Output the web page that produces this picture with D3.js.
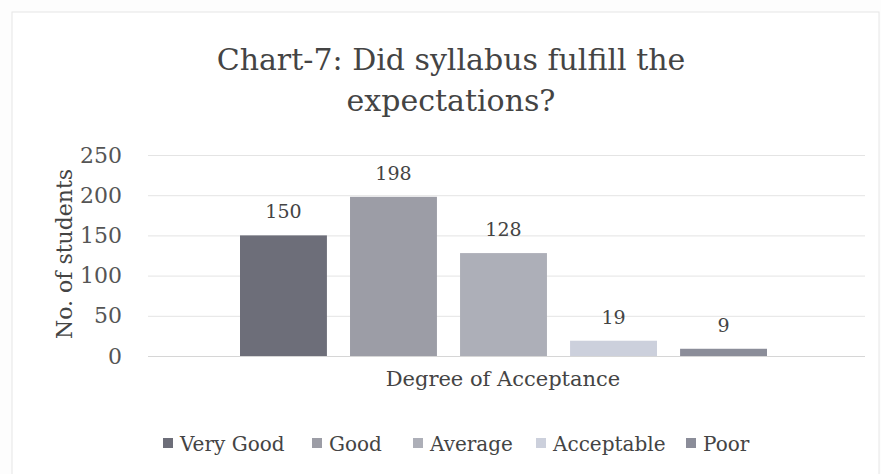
<!DOCTYPE html>
<html><head><meta charset="utf-8">
<script src="https://cdn.jsdelivr.net/npm/d3@7"></script>
<style>body{margin:0;background:#fff;}svg{display:block;}</style>
</head><body>
<script>
const categories = ["Very Good","Good","Average","Acceptable","Poor"];
const values = [150,198,128,19,9];
const colors = ["#6d6e79","#9c9da6","#adafb8","#ccd0dc","#8b8d99"];
const yTicks = [0,50,100,150,200,250];
const titleLines = ["Chart-7: Did syllabus fulfill the","expectations?"];
const xTitle = "Degree of Acceptance";
const yTitle = "No. of students";

const W=881,H=474;
const font = "'DejaVu Serif', serif";
const svg = d3.select("body").append("svg").attr("width",W).attr("height",H);
svg.append("rect").attr("x",0).attr("y",0).attr("width",W).attr("height",H).attr("fill","#fdfdfd");
svg.append("rect").attr("x",12).attr("y",12).attr("width",W-14).attr("height",H-10).attr("fill","#fff").attr("stroke","#e6e6e6");

const plotL=148, plotR=865;
const y = d3.scaleLinear().domain([0,250]).range([356,155]);
const x = d3.scaleBand().domain(categories).range([240,767]).paddingInner(0.21).paddingOuter(0);

const g = svg.append("g");
const yAxis = d3.axisLeft(y).tickValues(yTicks).tickSize(-(plotR-plotL)).tickPadding(26);
const ya = g.append("g").attr("transform",`translate(${plotL},0)`).call(yAxis);
ya.select(".domain").remove();
ya.selectAll(".tick line").attr("stroke","#e4e4e4");
ya.selectAll(".tick text").attr("font-family",font).attr("font-size",22).attr("fill","#555");
ya.selectAll(".tick").filter(d=>d===0).select("line").attr("stroke","#d6d6d6");

g.selectAll("rect.bar").data(values).join("rect").attr("class","bar")
 .attr("x",(d,i)=>x(categories[i])).attr("width",x.bandwidth())
 .attr("y",d=>y(d)).attr("height",d=>y(0)-y(d))
 .attr("fill",(d,i)=>colors[i]);

g.selectAll("text.lbl").data(values).join("text").attr("class","lbl")
 .attr("x",(d,i)=>x(categories[i])+x.bandwidth()/2).attr("y",d=>y(d)-17)
 .attr("text-anchor","middle").attr("font-family",font).attr("font-size",19).attr("fill","#444")
 .text(d=>d);

svg.selectAll("text.title").data(titleLines).join("text").attr("class","title")
 .attr("x",451).attr("y",(d,i)=>70+i*41).attr("text-anchor","middle")
 .attr("font-family",font).attr("font-size",30).attr("fill","#444").text(d=>d);

svg.append("text").attr("x",503).attr("y",386).attr("text-anchor","middle")
 .attr("font-family",font).attr("font-size",21).attr("fill","#444").text(xTitle);
svg.append("text").attr("transform","translate(72,254) rotate(-90)").attr("text-anchor","middle")
 .attr("font-family",font).attr("font-size",22).attr("fill","#444").text(yTitle);

// legend
const leg = svg.append("g").attr("font-family",font).attr("font-size",20).attr("fill","#444");
const legX=[163,312,413,536,686];
categories.forEach((c,i)=>{
  leg.append("rect").attr("x",legX[i]).attr("y",438).attr("width",10).attr("height",10).attr("fill",colors[i]);
  leg.append("text").attr("x",legX[i]+17).attr("y",451).text(c);
});
</script>
</body></html>
